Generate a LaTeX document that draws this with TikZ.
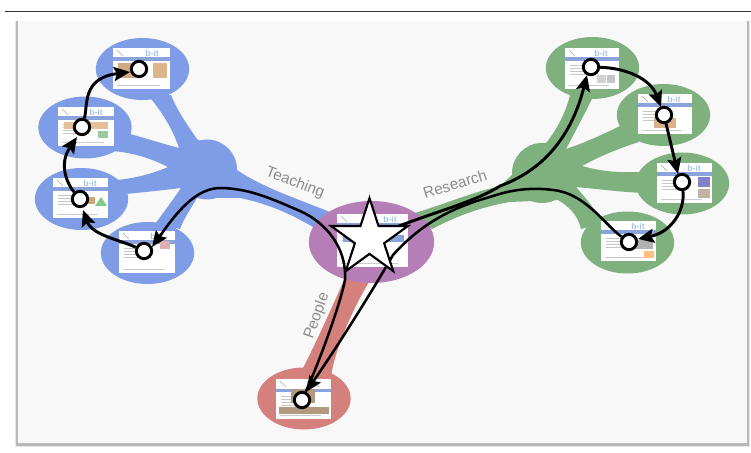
\documentclass[tikz,border=0pt]{standalone}
\usepackage{fontspec}
\setmainfont{Liberation Sans}
\usetikzlibrary{shapes.geometric,arrows.meta}
\pgfdeclarelayer{top}
\pgfsetlayers{main,top}
\definecolor{bluef}{HTML}{7F9CE6}
\definecolor{greenf}{HTML}{7FB17F}
\definecolor{purplef}{HTML}{B57EB7}
\definecolor{redf}{HTML}{D4807C}
\definecolor{panelf}{HTML}{F8F8F8}
\definecolor{bandf}{HTML}{8AA3DC}
\definecolor{labelc}{HTML}{8C8C8C}
\definecolor{bitc}{HTML}{A6C4E4}
\tikzset{
  x=0.75pt,y=-0.75pt,
  stopc/.style={circle,draw=black,fill=white,line width=2.2pt,minimum size=11.5pt,inner sep=0pt},
  jump/.style={draw=black,line width=2.2pt,-{Stealth[length=12pt,width=10.5pt,inset=2pt]}},
  jumpthin/.style={draw=black,line width=1.9pt,-{Stealth[length=12pt,width=10pt,inset=2pt]}},
  toplabel/.style={text=labelc,font=\fontsize{11.5pt}{13pt}\selectfont,inner sep=0pt},
  hubn/.style={circle,minimum size=45pt,inner sep=0pt,fill=#1},
  topic/.style={ellipse,minimum width=70pt,minimum height=46.5pt,inner sep=0pt,fill=#1},
}
\newcommand{\thumb}[4]{%
  \begin{scope}[shift={(#1,#2)}]
    \fill[white] (-#3/2,-#4/2) rectangle (#3/2,#4/2);
    \fill[bandf] (-#3/2,-#4/2+9.5) rectangle (#3/2,-#4/2+13);
    \draw[gray!70,line width=0.5pt] (-#3/2+4,-#4/2+2) -- (-#3/2+10,-#4/2+8);
    \node[text=bitc,font=\bfseries\fontsize{6.5pt}{7pt}\selectfont,inner sep=0pt] at (#3/2-18,-#4/2+5) {b-it};
    \foreach \yy in {17,20,23,26} {\draw[gray!45,line width=0.5pt] (-#3/2+5,-#4/2+\yy) -- (0,-#4/2+\yy);}
    \draw[gray!40,line width=0.5pt] (-#3/2+4,#4/2-4) -- (#3/2-10,#4/2-4);
  \end{scope}}
\begin{document}
\begin{tikzpicture}
\useasboundingbox (0,0) rectangle (751,453);
\fill[white] (0,0) rectangle (751,453);
\coordinate (ruleL) at (5,11.5); \coordinate (ruleR) at (751,11.5);
\draw[black!80,line width=0.8pt] (ruleL) -- (ruleR);
% panel with shadow
\fill[black!10] (14.5,21) rectangle (749.5,447);
\fill[black!28] (16,21.5) rectangle (748.5,445.5);
\fill[panelf] (18,21) rectangle (747,443);

% ---- blue branches
\fill[bluef] (146,93) .. controls (162,111) and (173,130) .. (179,148)
  .. controls (160,143) and (145,138) .. (130,134)
  -- (113,151) .. controls (135,153) and (152,159) .. (168,167)
  .. controls (152,174) and (135,178) .. (118,180)
  -- (126,194) .. controls (146,192) and (165,190) .. (181,188)
  .. controls (172,201) and (164,212) .. (155,224)
  -- (180,229) .. controls (185,216) and (192,207) .. (197,198)
  -- (240,198) .. controls (270,204) and (295,216) .. (318,230)
  -- (330,212) .. controls (295,198) and (262,187) .. (237,170)
  -- (197,139) .. controls (188,126) and (178,112) .. (171,95) -- cycle;
\node[hubn=bluef] (hubB) at (207,169.5) {};
% ---- green branches
\fill[greenf] (570,95) .. controls (565,115) and (556,130) .. (547,142)
  -- (512,175) -- (500,186) .. controls (470,193) and (445,204) .. (415,213)
  -- (432,229) .. controls (455,217) and (480,207) .. (510,202)
  -- (558,200) .. controls (570,207) and (578,216) .. (581,229)
  -- (604,223) .. controls (595,210) and (586,198) .. (576,187)
  .. controls (598,189) and (620,192) .. (644,193)
  -- (639,172) .. controls (618,173) and (600,171) .. (582,166)
  .. controls (600,156) and (620,148) .. (639,142)
  -- (622,125) .. controls (602,135) and (584,143) .. (566,149)
  .. controls (575,132) and (584,115) .. (593,97) -- cycle;
\node[hubn=greenf] (hubG) at (542,173) {};
% ---- red branch
\fill[redf] (345,278) .. controls (335,300) and (320,335) .. (301,372)
  -- (331,376) .. controls (335,350) and (352,310) .. (369,282) -- cycle;

% ---- topics
\node[topic=bluef] (tA) at (142.5,69) {};
\node[topic=bluef] (tB) at (85,127.5) {};
\node[topic=bluef] (tC) at (81.5,199) {};
\node[topic=bluef] (tD) at (147.5,253) {};
\node[topic=greenf] (rA) at (592.5,68) {};
\node[topic=greenf] (rB) at (663.5,115) {};
\node[topic=greenf] (rC) at (682.5,183.5) {};
\node[topic=greenf] (rD) at (627.5,242.5) {};
\node[topic=redf] (pA) at (304,398.5) {};
\node[ellipse,fill=purplef,minimum width=94pt,minimum height=61.5pt,inner sep=0pt] (cen) at (371.5,242) {};

% ---- thumbnails
\thumb{141.5}{68.5}{57}{41}
\thumb{86}{126.5}{56}{39}
\thumb{80.5}{198}{55}{40}
\thumb{147}{252}{56}{42}
\thumb{592}{68.5}{54}{41}
\thumb{665}{114}{54}{40}
\thumb{684.5}{183}{55}{40}
\thumb{628.5}{241}{55}{40}
\thumb{303.5}{399}{55}{40}
\thumb{372.5}{240.5}{71}{53}
% thumbnail pictures
\fill[black!35!orange!50] (118,63) rectangle (135,78);
\fill[black!30!orange!45] (153,63) rectangle (167,78);
\fill[black!25!orange!40] (64,122) rectangle (108,129);
\fill[green!30!gray!60] (98,131) rectangle (108,138);
\fill[brown!70] (84,197) rectangle (95,204);
\fill[green!40!gray!70] (95,206) -- (101,197) -- (107,206) -- cycle;
\fill[red!40!gray!45] (160,241) rectangle (170,249);
\fill[gray!35] (597,75) rectangle (606,83);
\fill[gray!45] (607,75) rectangle (615,83);
\fill[brown!60] (654,118) rectangle (676,128);
\fill[gray!60!blue!70] (698,177) rectangle (710,187);
\fill[brown!35!gray!60] (698,189) rectangle (710,198);
\fill[gray!60] (634,240) rectangle (653,249);
\fill[orange!50] (644,251) rectangle (654,258);
\fill[brown!50!gray!80] (291,389) rectangle (315,403);
\fill[brown!50!gray!80] (279,407) rectangle (329,414);
\fill[bandf] (343,235) rectangle (404,242);

% ---- stops and star, painted above the connectors
\begin{pgfonlayer}{top}
\node[stopc] (s1) at (139,69) {};
\node[stopc] (s2) at (82,127) {};
\node[stopc] (s3) at (80,199) {};
\node[stopc] (s4) at (144,251) {};
\node[stopc] (g1) at (591,67) {};
\node[stopc] (g2) at (664,115) {};
\node[stopc] (g3) at (682,182) {};
\node[stopc] (g4) at (629,242) {};
\node[stopc] (p1) at (302,400) {};
\node[star,star points=5,star point ratio=2.618,minimum size=60.5pt,inner sep=0pt,draw=black,fill=white,line width=1.6pt] (star) at (369.5,238.5) {};
\end{pgfonlayer}

% ---- connectors
\draw[jump] (star.center) .. controls (420,215) and (470,205) .. (500,186)
  .. controls (530,175) and (568,150) .. (587,75);
\draw[jump] (g1) .. controls (625,68) and (650,78) .. (661,107);
\draw[jump] (g2) -- (678,174);
\draw[jump] (g3) .. controls (685,210) and (672,232) .. (638,239);
\draw[jumpthin] (g4) .. controls (605,225) and (585,193) .. (553,190)
  .. controls (530,187) and (510,190) .. (490,197)
  .. controls (450,208) and (420,225) .. (393,255)
  .. controls (370,295) and (335,350) .. (306,392);
\draw[jumpthin] (p1) .. controls (320,360) and (340,305) .. (345,280)
  .. controls (347,247) and (325,222) .. (300,211)
  .. controls (270,198) and (250,189) .. (222,188)
  .. controls (195,187) and (175,215) .. (152,247);
\draw[jump] (s4) .. controls (120,240) and (92,235) .. (83,210);
\draw[jump] (s3) .. controls (68,185) and (58,165) .. (77,137);
\draw[jump] (s2) .. controls (88,105) and (82,78) .. (130,72);

% ---- labels
\node[toplabel,rotate=-21] (lt) at (295,183) {Teaching};
\node[toplabel,rotate=17] (lr) at (455,184) {Research};
\node[toplabel,rotate=70] (lp) at (317,316) {People};
\end{tikzpicture}
\end{document}
